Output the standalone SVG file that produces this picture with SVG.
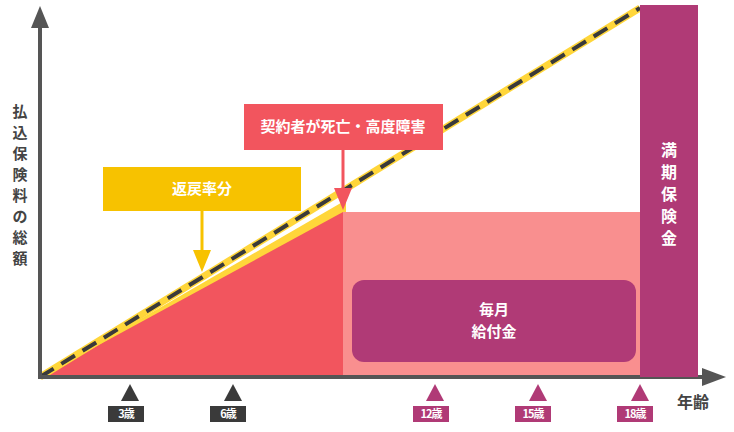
<svg xmlns="http://www.w3.org/2000/svg" width="734" height="432" viewBox="0 0 734 432">
<style>
text{font-family:"Noto Sans CJK JP","Noto Sans",sans-serif;font-weight:bold}
.w{fill:#fff;font-size:15px;text-anchor:middle}
.t{fill:#fff;font-size:11px;text-anchor:middle;letter-spacing:-1px}
.ax{fill:#444;font-size:15px;text-anchor:middle}
</style>
<rect width="734" height="432" fill="#fff"/>
<g id="areas">
<polygon points="40,377 346,200 346,212 343,377" fill="#ffd63a"/>
<polygon points="40,377 343,212 343,377" fill="#f2555e"/>
<rect x="343" y="212" width="297" height="165" fill="#f98f8f"/>
<line x1="40" y1="377" x2="640" y2="8" stroke="#ffd63a" stroke-width="7"/>
</g>
<g id="connectors">
<line x1="40" y1="377" x2="640" y2="8" stroke="#3a3a3a" stroke-width="4" stroke-dasharray="16,9"/>
<line x1="40" y1="378" x2="40" y2="25" stroke="#555" stroke-width="4"/>
<polygon points="31,28 40,6 49,28" fill="#555"/>
<line x1="38" y1="377" x2="705" y2="377" stroke="#555" stroke-width="4"/>
<polygon points="702,368 726,377 702,386" fill="#555"/>
<line x1="343" y1="150" x2="343" y2="192" stroke="#f2555e" stroke-width="3"/>
<polygon points="334,188 352,188 343,210" fill="#f2555e"/>
<line x1="202" y1="211" x2="202" y2="255" stroke="#f7c200" stroke-width="3"/>
<polygon points="193,250 211,250 202,272" fill="#f7c200"/>
</g>
<g id="manki">
<rect x="640" y="5" width="58" height="372" fill="#b03a76"/>
<text class="w" style="font-size:16px"><tspan x="669" y="156">満</tspan><tspan x="669" y="178">期</tspan><tspan x="669" y="200">保</tspan><tspan x="669" y="222">険</tspan><tspan x="669" y="244">金</tspan></text>
</g>
<g id="maitsuki">
<rect x="352" y="280" width="284" height="82" rx="12" fill="#b03a76"/>
<text class="w" x="494" y="315">毎月</text>
<text class="w" x="494" y="337">給付金</text>
</g>
<g id="shibou">
<rect x="244" y="104" width="199" height="46" fill="#f2555e"/>
<text class="w" x="343" y="132">契約者が死亡・高度障害</text>
</g>
<g id="henrei">
<rect x="103" y="167" width="198" height="44" fill="#f7c200"/>
<text class="w" x="202" y="194">返戻率分</text>
</g>
<g id="ylabel">
<text class="ax"><tspan x="20" y="117">払</tspan><tspan x="20" y="138">込</tspan><tspan x="20" y="159">保</tspan><tspan x="20" y="180">険</tspan><tspan x="20" y="201">料</tspan><tspan x="20" y="222">の</tspan><tspan x="20" y="243">総</tspan><tspan x="20" y="264">額</tspan></text>
</g>
<text class="ax" x="693" y="408" style="font-size:16px">年齢</text>
<g id="ticks">
<polygon points="121,401 130,384 139,401" fill="#3a3a3a"/><rect x="108" y="406" width="36" height="16" fill="#3a3a3a"/><text class="t" x="126" y="418">3歳</text>
<polygon points="224,401 233,384 242,401" fill="#3a3a3a"/><rect x="210" y="406" width="36" height="16" fill="#3a3a3a"/><text class="t" x="228" y="418">6歳</text>
<polygon points="426,401 435,384 444,401" fill="#b03a76"/><rect x="413" y="406" width="36" height="16" fill="#b03a76"/><text class="t" x="431" y="418">12歳</text>
<polygon points="529,401 538,384 547,401" fill="#b03a76"/><rect x="515" y="406" width="36" height="16" fill="#b03a76"/><text class="t" x="533" y="418">15歳</text>
<polygon points="631,401 640,384 649,401" fill="#b03a76"/><rect x="617" y="406" width="36" height="16" fill="#b03a76"/><text class="t" x="635" y="418">18歳</text>
</g>
</svg>
